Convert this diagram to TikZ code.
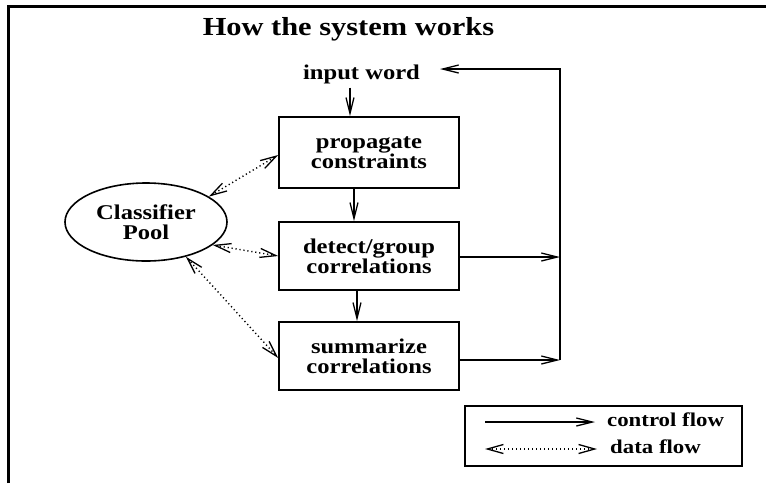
\documentclass[tikz,border=0pt]{standalone}
\usepackage{fontspec}
\setmainfont{Liberation Serif}[FakeStretch=1.17]
\usetikzlibrary{arrows.meta,shapes.geometric}

\begin{document}
\begin{tikzpicture}[x=1pt,y=-1pt,
  stage/.style={draw, line width=1.6pt, minimum width=180pt, inner sep=0pt,
    align=center, font=\fontsize{21}{20}\selectfont\bfseries},
  ctrl/.style={line width=1.5pt, -{Straight Barb[length=16pt,width=8pt,line width=1.3pt]}},
  data/.style={line width=1.4pt, dash pattern=on 1.2pt off 2.8pt,
    {Straight Barb[length=16pt,width=9pt,line width=1.3pt]}-{Straight Barb[length=16pt,width=9pt,line width=1.3pt]}},
  label/.style={font=\fontsize{21}{21}\selectfont\bfseries, inner sep=0pt},
  key/.style={font=\fontsize{19.5}{19.5}\selectfont\bfseries, inner sep=0pt, anchor=base west}
]
\useasboundingbox (0,0) rectangle (766,483);

% open frame: top and left edges only
\draw[line width=2.5pt] (8.5,483) -- (8.5,6.5) -- (766,6.5);

% heading
\node[anchor=base, inner sep=0pt, font=\fontsize{26}{26}\selectfont\bfseries] (title) at (348.5,35) {How the system works};

% input and processing stages
\node[label, anchor=base] (in) at (361.5,79) {input word};
\node[stage, minimum height=71pt] (b1) at (369,152.5) {propagate\\constraints};
\node[stage, minimum height=68pt] (b2) at (369,256) {detect/group\\correlations};
\node[stage, minimum height=68pt] (b3) at (369,356) {summarize\\correlations};

% shared classifier pool
\node[draw, ellipse, line width=1.6pt, minimum width=162pt, minimum height=78pt,
  inner sep=0pt, align=center, font=\fontsize{21}{20}\selectfont\bfseries] (pool) at (146,222) {Classifier\\Pool};

% control flow down the stages
\draw[ctrl] ([xshift=-11.5pt,yshift=-4pt]in.south) -- ([xshift=-11.5pt]in.south |- b1.north);
\draw[ctrl] ([xshift=-15pt]b1.south) -- ([xshift=-15pt]b2.north);
\draw[ctrl] ([xshift=-12pt]b2.south) -- ([xshift=-12pt]b3.north);

% feedback loop back to the next input word
\coordinate (rt) at (560,69);
\coordinate (rb) at (560,360);
\coordinate (lt) at (440,69);
\draw[ctrl] ([yshift=-1pt]b2.east) -- ([yshift=-1pt]b2.east -| rt);
\draw[ctrl] ([yshift=-4pt]b3.east) -- (rb);
\draw[ctrl] (rb) -- (rt) -- (lt);

% data exchange with the classifier pool
\draw[data] (pool.22) -- ([yshift=-2.5pt]b1.west);
\draw[data] (pool.-19) -- (b2.west);
\draw[data] (pool.-41) -- ([yshift=-2pt]b3.west);

% key
\node[draw, line width=1.2pt, minimum width=277pt, minimum height=60pt, inner sep=0pt] (legend) at (603.5,436) {};
\coordinate (c1) at (485,422);
\coordinate (c2) at (595,422);
\coordinate (d1) at (485,449);
\coordinate (d2) at (597,449);
\draw[ctrl] (c1) -- (c2);
\draw[data] (d1) -- (d2);
\node[key] (kc) at (607,426) {control flow};
\node[key] (kd) at (610,453) {data flow};
\end{tikzpicture}
\end{document}
